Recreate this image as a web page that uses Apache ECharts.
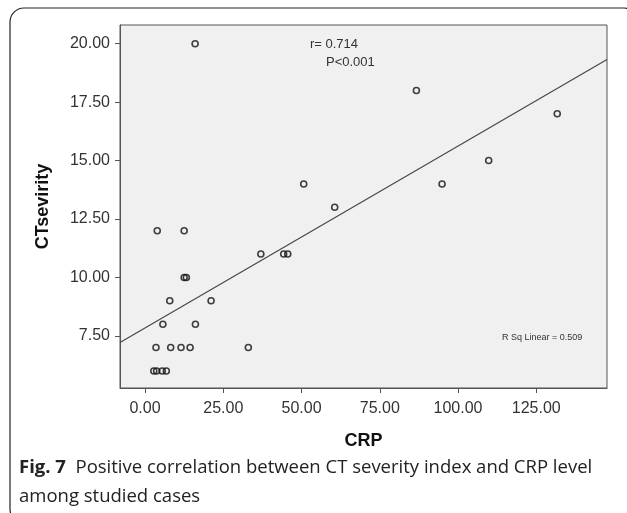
<!DOCTYPE html>
<html>
<head>
<meta charset="utf-8">
<script src="https://cdn.jsdelivr.net/npm/echarts@6/dist/echarts.min.js"></script>
<style>
  html, body { margin: 0; padding: 0; background: #fff; }
  #chart { width: 627px; height: 513px; }
</style>
</head>
<body>
<div id="chart"></div>
<script>
// CRP (x) vs CT severity (y)
const crpValues = [16.0, 50.7, 3.9, 12.5, 37.0, 44.3, 45.6, 86.7, 131.7, 109.8, 94.9, 60.6,
  12.5, 13.2, 7.9, 21.1, 5.7, 16.1, 3.5, 8.2, 11.5, 14.4, 33.0, 2.8, 3.7, 5.5, 6.8];
const ctValues = [20, 14, 12, 12, 11, 11, 11, 18, 17, 15, 14, 13,
  10, 10, 9, 9, 8, 8, 7, 7, 7, 7, 7, 6, 6, 6, 6];

// fit line end points (at the plot edges)
const fitX = [-8, 147.6];
const fitY = [7.22, 19.32];

const xTicks = [0, 25, 50, 75, 100, 125];
const yTicks = [7.5, 10, 12.5, 15, 17.5, 20];

const points = [];
for (var i = 0; i < crpValues.length; i++) {
  points.push([crpValues[i], ctValues[i]]);
}

let myChart = echarts.init(document.getElementById('chart'));
myChart.setOption({
  animation: false,
  backgroundColor: '#fff',
  grid: {
    left: 120,
    top: 25,
    right: 20,
    bottom: 125,
    show: true,
    backgroundColor: '#f0f0f0',
    borderColor: '#555',
    borderWidth: 1
  },
  xAxis: {
    type: 'value',
    min: -8,
    max: 147.6,
    name: 'CRP',
    nameLocation: 'middle',
    nameGap: 44,
    nameTextStyle: { fontFamily: 'Liberation Sans', fontWeight: 'bold', fontSize: 18, color: '#111' },
    splitLine: { show: false },
    axisLine: { onZero: false, lineStyle: { color: '#555', width: 1 } },
    axisTick: { show: true, length: 5, customValues: xTicks, lineStyle: { color: '#555' } },
    axisLabel: {
      customValues: xTicks,
      margin: 13,
      fontFamily: 'Liberation Sans',
      fontSize: 16,
      color: '#333',
      formatter: (v) => v.toFixed(2)
    }
  },
  yAxis: {
    type: 'value',
    min: 5.27,
    max: 20.8,
    name: 'CTsevirity',
    nameLocation: 'middle',
    nameGap: 68,
    nameTextStyle: { fontFamily: 'Liberation Sans', fontWeight: 'bold', fontSize: 18, color: '#111' },
    splitLine: { show: false },
    axisLine: { show: true, onZero: false, lineStyle: { color: '#555', width: 1 } },
    axisTick: { show: true, length: 5, customValues: yTicks, lineStyle: { color: '#555' } },
    axisLabel: {
      customValues: yTicks,
      margin: 10,
      fontFamily: 'Liberation Sans',
      fontSize: 16,
      color: '#333',
      formatter: (v) => v.toFixed(2)
    }
  },
  series: [
    {
      type: 'line',
      data: [[fitX[0], fitY[0]], [fitX[1], fitY[1]]],
      showSymbol: false,
      silent: true,
      lineStyle: { color: '#444', width: 1.1 },
      z: 2
    },
    {
      type: 'scatter',
      data: points,
      symbol: 'circle',
      symbolSize: 6,
      itemStyle: { color: 'rgba(0,0,0,0)', borderColor: '#111', borderWidth: 1.6 },
      z: 3
    }
  ],
  graphic: [
    {
      type: 'rect',
      shape: { x: 10, y: 8, width: 628, height: 515, r: 14 },
      style: { fill: null, stroke: '#222', lineWidth: 1.2 },
      silent: true
    },
    {
      type: 'text', left: 310, top: 38,
      style: { text: 'r= 0.714', font: '13px "Liberation Sans"', fill: '#333' }
    },
    {
      type: 'text', left: 326, top: 56,
      style: { text: 'P<0.001', font: '13px "Liberation Sans"', fill: '#333' }
    },
    {
      type: 'text', left: 502, top: 333,
      style: { text: 'R Sq Linear = 0.509', font: '9px "Liberation Sans"', fill: '#333' }
    },
    {
      type: 'text', left: 19, top: 453,
      style: {
        text: '{b|Fig. 7}  Positive correlation between CT severity index and CRP level\namong studied cases',
        font: '18.5px "Open Sans"',
        fill: '#222',
        lineHeight: 29,
        rich: {
          b: { font: 'bold 18.5px "Open Sans"', fill: '#222' }
        }
      }
    }
  ]
});
</script>
</body>
</html>
